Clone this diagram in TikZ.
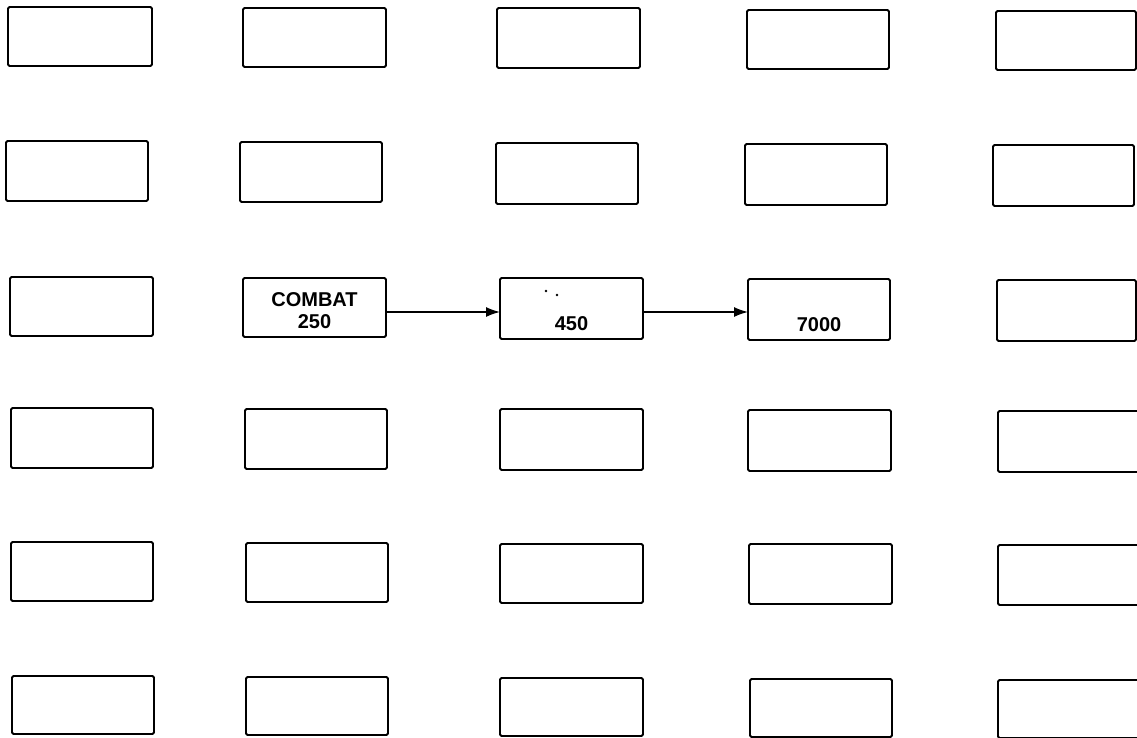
\documentclass[tikz,border=0pt]{standalone}
\usepackage{fontspec}
\setmainfont{Liberation Sans}
\usetikzlibrary{arrows.meta}
\tikzset{
  box/.style={draw=black, line width=1.9pt, rounded corners=1.5pt, inner sep=0pt, outer sep=0pt, fill=none},
  lbl/.style={inner sep=0pt, anchor=base, font=\fontsize{20}{22}\selectfont\bfseries},
  arr/.style={line width=1.5pt, -{Latex[length=14pt,width=10pt]}},
  speck/.style={fill=black, draw=none}
}
\newcommand\bx[5]{\node[box, minimum width={(#4-#2)*1pt}, minimum height={(#5-#3)*1pt}] (#1) at ({(#2+#4)/2},{(#3+#5)/2}) {};}
\begin{document}
\begin{tikzpicture}[x=1pt,y=-1pt]
\useasboundingbox (0,0) rectangle (1137,738);
\clip (0,0) rectangle (1137,738);
\fill[white] (0,0) rectangle (1137,738);
% row 1
\bx{r1c1}{8}{7}{152}{66}
\bx{r1c2}{243}{8}{386}{67}
\bx{r1c3}{497}{8}{640}{68}
\bx{r1c4}{747}{10}{889}{69}
\bx{r1c5}{996}{11}{1136}{70}
% row 2
\bx{r2c1}{6}{141}{148}{201}
\bx{r2c2}{240}{142}{382}{202}
\bx{r2c3}{496}{143}{638}{204}
\bx{r2c4}{745}{144}{887}{205}
\bx{r2c5}{993}{145}{1134}{206}
% row 3
\bx{r3c1}{10}{277}{153}{336}
\bx{r3c2}{243}{278}{386}{337}
\bx{r3c3}{500}{278}{643}{339}
\bx{r3c4}{748}{279}{890}{340}
\bx{r3c5}{997}{280}{1136}{341}
% row 4
\bx{r4c1}{11}{408}{153}{468}
\bx{r4c2}{245}{409}{387}{469}
\bx{r4c3}{500}{409}{643}{470}
\bx{r4c4}{748}{410}{891}{471}
\bx{r4c5}{998}{411}{1141}{472}
% row 5
\bx{r5c1}{11}{542}{153}{601}
\bx{r5c2}{246}{543}{388}{602}
\bx{r5c3}{500}{544}{643}{603}
\bx{r5c4}{749}{544}{892}{604}
\bx{r5c5}{998}{545}{1141}{605}
% row 6
\bx{r6c1}{12}{676}{154}{734}
\bx{r6c2}{246}{677}{388}{735}
\bx{r6c3}{500}{678}{643}{736}
\bx{r6c4}{750}{679}{892}{737}
\bx{r6c5}{998}{680}{1141}{738}
% labels
\node[lbl] (tcombat) at (314.5,306) {COMBAT};
\node[lbl] (t250) at (314.5,328) {250};
\node[lbl] (t450) at (571.5,330) {450};
\node[lbl] (t7000) at (819,331) {7000};
\fill[speck] (546,291) circle (1.4);
\fill[speck] (557,295) circle (1.4);
% arrows
\coordinate (ay) at (0,312);
\draw[arr] (r3c2.east |- ay) -- (r3c3.west |- ay);
\draw[arr] (r3c3.east |- ay) -- (r3c4.west |- ay);
\end{tikzpicture}
\end{document}
